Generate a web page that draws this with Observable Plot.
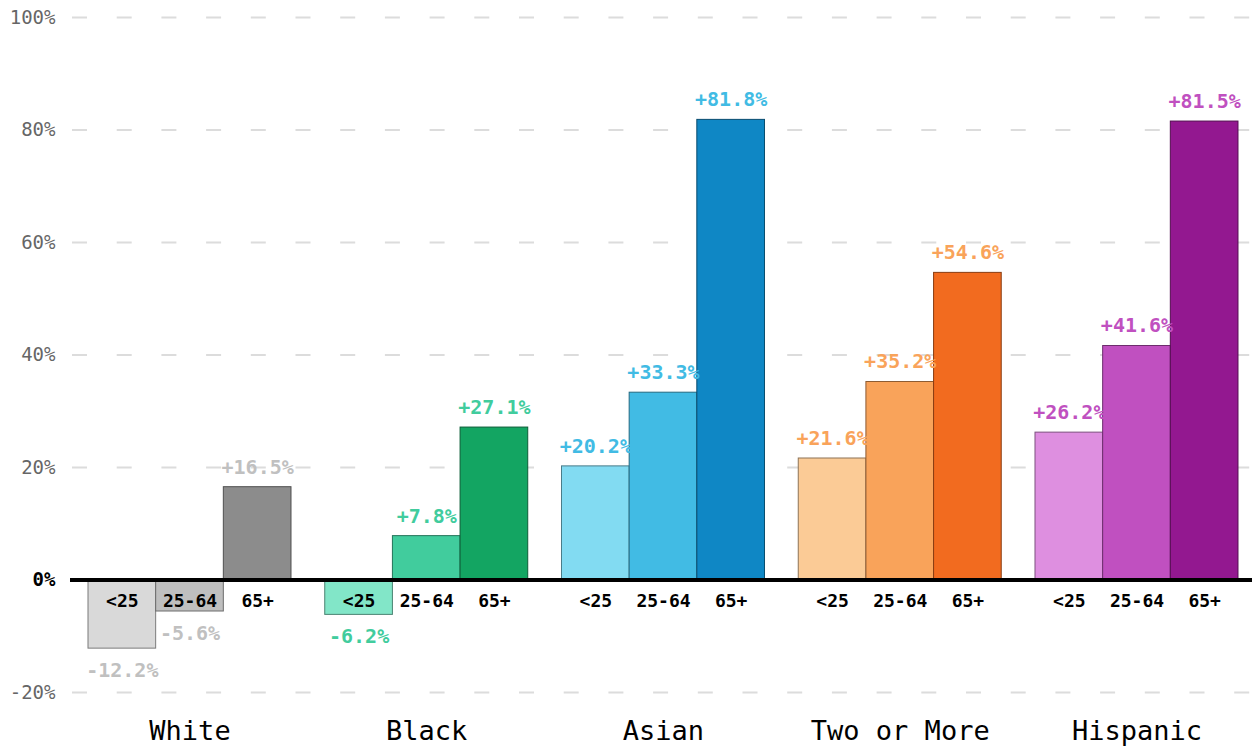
<!DOCTYPE html>
<html>
<head>
<meta charset="utf-8">
<script src="https://cdn.jsdelivr.net/npm/d3@7"></script>
<script src="https://cdn.jsdelivr.net/npm/@observablehq/plot@0.6"></script>
<style>
  html, body { margin: 0; padding: 0; background: #fff; }
  #chart { position: relative; width: 1252px; height: 747px; }
  #chart svg { position: absolute; left: 0; top: 0; }
</style>
</head>
<body>
<div id="chart"></div>
<script>
const races = ["White", "Black", "Asian", "Two or More", "Hispanic"];
const ages = ["<25", "25-64", "65+"];
const whiteValues = [-12.2, -5.6, 16.5];
const blackValues = [-6.2, 7.8, 27.1];
const asianValues = [20.2, 33.3, 81.8];
const twoOrMoreValues = [21.6, 35.2, 54.6];
const hispanicValues = [26.2, 41.6, 81.5];
const yTicks = [-20, 0, 20, 40, 60, 80, 100];

const seriesValues = [whiteValues, blackValues, asianValues, twoOrMoreValues, hispanicValues];
const data = races.flatMap((race, i) => ages.map((age, j) => ({race, age, value: seriesValues[i][j]})));

// styling
const barColors = {
  "White": ["#d9d9d9", "#bfbfbf", "#8c8c8c"],
  "Black": ["#82e6c8", "#41cc9d", "#13a562"],
  "Asian": ["#82dbf2", "#41bbe4", "#0f87c5"],
  "Two or More": ["#fbcb96", "#f9a35a", "#f26b1f"],
  "Hispanic": ["#de8fe0", "#c050c0", "#931890"]
};
const labelColors = {
  "White": "#c0c0c0",
  "Black": "#41cc9d",
  "Asian": "#41bbe4",
  "Two or More": "#f9a35a",
  "Hispanic": "#c050c0"
};
const fillOf = d => barColors[d.race][ages.indexOf(d.age)];
const strokeOf = d => d3.color(fillOf(d)).darker(1.6).formatHex();
const fmt = d => (d.value > 0 ? "+" : "") + d.value.toFixed(1) + "%";

const common = {
  width: 1252,
  height: 747,
  marginLeft: 72,
  marginRight: 0,
  marginTop: 17,
  marginBottom: 55,
  style: {fontFamily: "'DejaVu Sans Mono', monospace", background: "transparent", overflow: "visible"},
  y: {domain: [-20, 100], axis: null}
};

// background layer: dashed grid + y tick labels across the full width
const back = Plot.plot({
  ...common,
  style: {...common.style, background: "#fff"},
  marks: [
    Plot.ruleY(yTicks.filter(t => t !== 0), {stroke: "#dcdcdc", strokeWidth: 2, strokeDasharray: "15,29.7"}),
    Plot.text(yTicks.filter(t => t !== 0), {y: d => d, text: d => d + "%", frameAnchor: "left", dx: -17, textAnchor: "end", fill: "#666", fontSize: 19}),
    Plot.text([0], {y: d => d, text: d => d + "%", frameAnchor: "left", dx: -17, textAnchor: "end", fill: "#000", fontSize: 19, fontWeight: "bold"})
  ]
});

// foreground layer: grouped bars
const front = Plot.plot({
  ...common,
  color: {type: "identity"},
  fx: {domain: races, paddingInner: 0.1426, paddingOuter: 0.0634, align: 0.533, round: false, label: null},
  x: {domain: ages, padding: 0, round: false, axis: null},
  marks: [
    Plot.barY(data, {fx: "race", x: "age", y: "value", fill: fillOf, stroke: strokeOf, strokeWidth: 1}),
    Plot.ruleY([0], {stroke: "#000", strokeWidth: 4, insetLeft: -18, insetRight: -18}),
    Plot.text(data, {fx: "race", x: "age", y: d => 0, text: "age", dy: 21, fontSize: 18, fontWeight: "bold", fill: "#000"}),
    Plot.text(data.filter(d => d.value > 0), {fx: "race", x: "age", y: "value", text: fmt, dy: -20, fontSize: 20, fontWeight: "bold", fill: d => labelColors[d.race]}),
    Plot.text(data.filter(d => d.value < 0), {fx: "race", x: "age", y: "value", text: fmt, dy: 22, fontSize: 20, fontWeight: "bold", fill: d => labelColors[d.race]}),
    Plot.axisFx({anchor: "bottom", tickSize: 0, tickPadding: 28, fontSize: 27, label: null, color: "#000"})
  ]
});
const el = document.getElementById("chart");
el.appendChild(back);
el.appendChild(front);
</script>
</body>
</html>
